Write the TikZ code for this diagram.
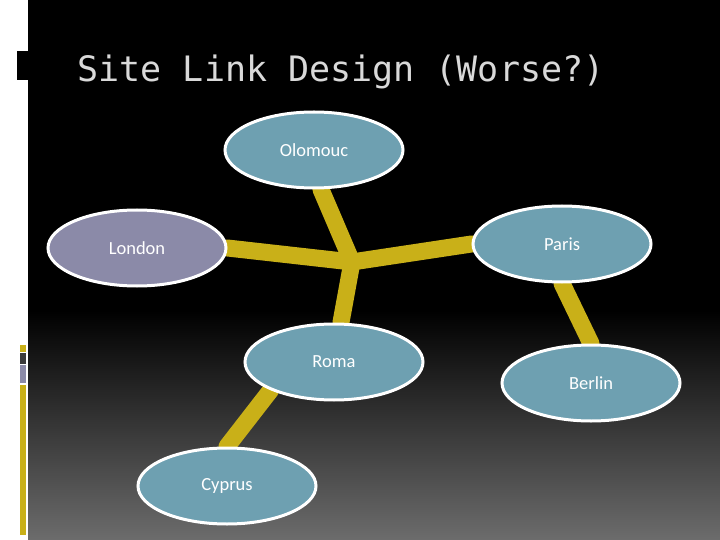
\documentclass[tikz,border=0pt]{standalone}
\usepackage{fontspec}
\setmainfont{Carlito}
\newfontfamily\titlefont{DejaVu Sans Mono}
\usetikzlibrary{shapes.geometric,backgrounds}
\definecolor{sitefill}{RGB}{110,160,177}
\definecolor{londonfill}{RGB}{139,138,168}
\definecolor{linkgold}{RGB}{201,176,24}
\definecolor{titlegray}{RGB}{217,217,217}
\definecolor{bargray}{RGB}{58,58,58}
\definecolor{floorgray}{RGB}{108,108,108}
\begin{document}
\begin{tikzpicture}[x=1bp,y=-1bp,
    site/.style={ellipse,draw=white,line width=3bp,fill=sitefill,
      minimum width=178bp,minimum height=76bp,inner sep=0pt,
      text=white,font=\fontsize{18.5bp}{20bp}\selectfont},
    link/.style={draw=linkgold,line width=17bp,line cap=round,line join=round}]
      \useasboundingbox (0,0) rectangle (720,540);
      \node[anchor=base,text=titlegray,font=\titlefont\fontsize{35bp}{40bp}\selectfont] (title) at (341,82) {Site Link Design (Worse?)};
      \node[site] (olomouc) at (314,150) {Olomouc};
      \node[site,fill=londonfill] (london) at (137,248) {London};
      \node[site] (paris) at (562,244) {Paris};
      \node[site] (roma) at (334,362) {Roma};
      \node[site] (berlin) at (591,383) {Berlin};
      \node[site] (cyprus) at (227,486) {Cyprus};
      \coordinate (hub) at (352,262);
      \begin{scope}[on background layer]
        \fill[white] (0,0) rectangle (28,540);
        \fill[black] (28,0) rectangle (720,310);
        \shade[top color=black,bottom color=floorgray] (28,310) rectangle (720,540);
        \fill[black] (17,51) rectangle (28,80);
        \fill[linkgold] (20,345) rectangle (26,352);
        \fill[bargray] (20,353) rectangle (26,364);
        \fill[londonfill] (20,365) rectangle (26,383);
        \fill[linkgold] (20,385) rectangle (26,535);
        \draw[link] (olomouc.-80) -- (hub);
        \draw[link] (london.east) -- (hub);
        \draw[link] (hub) -- (paris.west);
        \draw[link] (hub) -- (roma.80);
        \draw[link] (paris.south) -- (berlin.north);
        \draw[link] (roma.-156) -- (cyprus.north);
      \end{scope}
    \end{tikzpicture}
\end{document}
